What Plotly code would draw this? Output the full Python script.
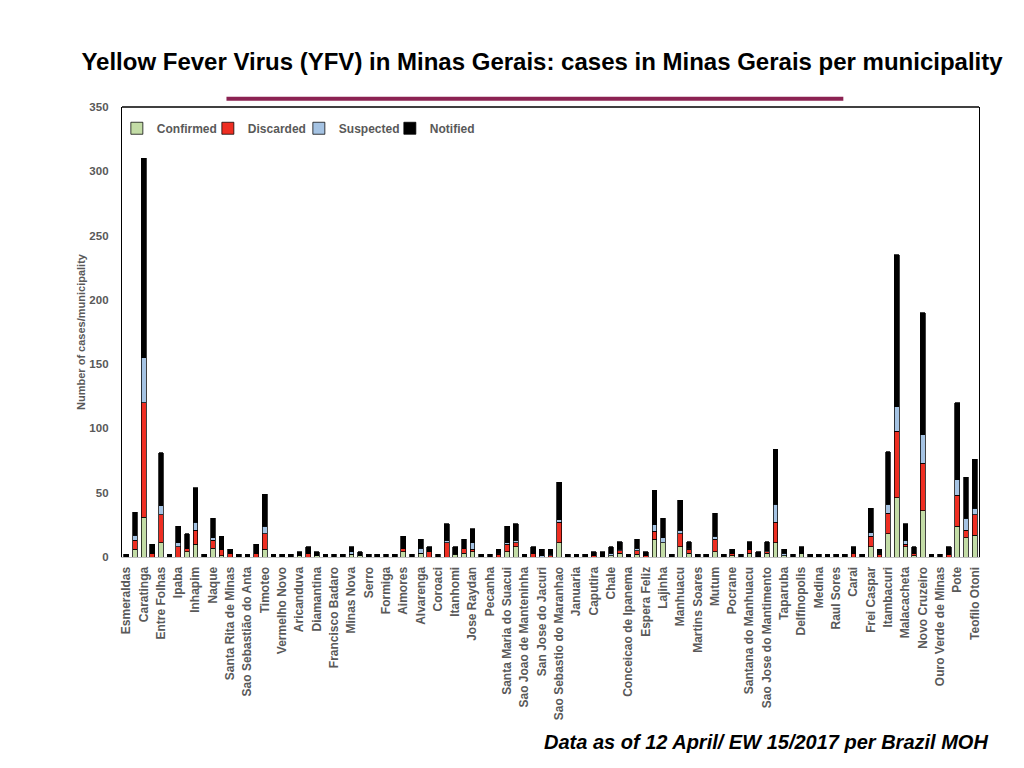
import plotly.graph_objects as go

# Municipalities shown on the axis (every other bar is labelled in the source chart)
labels = [
    "Esmeraldas", "Caratinga", "Entre Folhas", "Ipaba", "Inhapim", "Naque",
    "Santa Rita de Minas", "Sao Sebastião do Anta", "Timoteo", "Vermelho Novo",
    "Aricanduva", "Diamantina", "Francisco Badaro", "Minas Nova", "Serro",
    "Formiga", "Aimores", "Alvarenga", "Coroaci", "Itanhomi", "Jose Raydan",
    "Pecanha", "Santa Maria do Suacui", "Sao Joao de Manteninha",
    "San Jose do Jacuri", "Sao Sebastio do Maranhao", "Januaria", "Caputira",
    "Chale", "Conceicao de Ipanema", "Espera Feliz", "Lajinha", "Manhuacu",
    "Martins Soares", "Mutum", "Pocrane", "Santana do Manhuacu",
    "Sao Jose do Mantimento", "Taparuba", "Delfinopolis", "Medina",
    "Raul Sores", "Carai", "Frei Caspar", "Itambacuri", "Malacacheta",
    "Novo Cruzeiro", "Ouro Verde de Minas", "Pote", "Teofilo Otoni",
]

# 99 municipalities (bar positions 0..98); labelled ones sit at even positions
confirmed = [
    0, 6, 31, 0, 11, 0, 0, 4, 10, 0,
    7, 1, 0, 0, 0, 0, 6, 0, 0, 0,
    1, 0, 1, 0, 0, 0, 2, 1, 0, 0,
    0, 0, 4, 0, 3, 0, 0, 0, 2, 3,
    4, 0, 0, 0, 4, 8, 0, 0, 0, 0,
    11, 0, 0, 0, 0, 0, 1, 3, 0, 2,
    0, 14, 11, 0, 8, 3, 0, 0, 4, 0,
    1, 0, 3, 0, 3, 11, 1, 0, 3, 0,
    0, 0, 0, 0, 0, 0, 8, 0, 18, 46,
    8, 1, 36, 0, 0, 0, 24, 15, 17,
]
discarded = [
    0, 7, 89, 3, 22, 0, 8, 3, 11, 0,
    6, 5, 3, 0, 0, 3, 12, 0, 0, 0,
    0, 3, 0, 0, 0, 0, 0, 0, 0, 0,
    0, 0, 3, 0, 0, 4, 0, 11, 1, 4,
    2, 0, 0, 2, 6, 3, 0, 3, 0, 1,
    16, 0, 0, 0, 1, 0, 0, 2, 0, 3,
    1, 6, 0, 0, 10, 3, 0, 0, 10, 0,
    2, 0, 3, 0, 1, 16, 0, 0, 0, 0,
    0, 0, 0, 0, 3, 0, 8, 2, 16, 52,
    2, 2, 37, 0, 0, 2, 24, 6, 16,
]
suspected = [
    0, 4, 35, 0, 7, 0, 3, 0, 6, 0,
    2, 0, 0, 0, 0, 0, 6, 0, 0, 0,
    0, 0, 0, 0, 0, 0, 2, 0, 0, 0,
    0, 0, 0, 0, 4, 0, 0, 2, 0, 0,
    5, 0, 0, 1, 1, 2, 0, 0, 1, 1,
    2, 0, 0, 0, 0, 0, 2, 1, 0, 2,
    0, 5, 4, 0, 3, 1, 0, 0, 2, 0,
    0, 0, 0, 0, 1, 14, 2, 0, 0, 0,
    0, 0, 0, 0, 0, 0, 3, 1, 7, 19,
    3, 0, 22, 0, 0, 0, 12, 9, 5,
]
notified = [
    2, 18, 155, 7, 41, 2, 13, 11, 27, 2,
    15, 10, 3, 2, 2, 7, 25, 2, 2, 2,
    3, 5, 3, 2, 2, 2, 4, 3, 2, 2,
    2, 2, 9, 2, 7, 4, 2, 13, 5, 7,
    11, 2, 2, 3, 13, 13, 2, 5, 5, 4,
    29, 2, 2, 2, 3, 4, 5, 6, 2, 7,
    3, 27, 15, 2, 23, 5, 2, 2, 18, 2,
    3, 2, 6, 4, 7, 43, 3, 2, 5, 2,
    2, 2, 2, 2, 5, 2, 19, 3, 41, 118,
    13, 5, 95, 2, 2, 6, 60, 32, 38,
]

series = [
    ("Confirmed", confirmed, "#c3dca6"),
    ("Discarded", discarded, "#ee2e22"),
    ("Suspected", suspected, "#a5c3e3"),
    ("Notified", notified, "#000000"),
]

positions = list(range(len(confirmed)))
tick_positions = positions[::2]

fig = go.Figure()
for name, vals, color in series:
    fig.add_trace(go.Bar(
        x=positions, y=vals, name=name,
        marker=dict(color=color, line=dict(color="#000000", width=0.75)),
    ))

gray = "#595959"
fig.update_layout(
    width=1024, height=768,
    barmode="stack", bargap=0.45,
    plot_bgcolor="white", paper_bgcolor="white",
    margin=dict(l=121.5, r=45.3, t=107.3, b=211, autoexpand=False),
    font=dict(family="Liberation Sans, Arial, sans-serif", color=gray),
    showlegend=True,
    legend=dict(
        orientation="h", x=-0.006, y=0.985, xanchor="left", yanchor="top",
        traceorder="normal", entrywidth=46, itemwidth=30,
        font=dict(size=12, color=gray, family="Liberation Sans, Arial, sans-serif", weight="bold"),
        bgcolor="rgba(0,0,0,0)",
    ),
    title=dict(
        text="<b>Yellow Fever Virus (YFV) in Minas Gerais: cases in Minas Gerais per municipality</b>",
        x=542 / 1024, xref="container", xanchor="center",
        y=1 - 62 / 768, yref="container", yanchor="middle",
        font=dict(size=24, color="#000000", family="Liberation Sans, Arial, sans-serif"),
    ),
    xaxis=dict(
        range=[-0.5, len(positions) - 0.5],
        tickmode="array", tickvals=tick_positions, ticktext=labels,
        tickangle=-90, showgrid=False, zeroline=False,
        showline=True, linecolor="#c0c0c0", linewidth=1,
        ticks="", ticklabelstandoff=4,
        tickfont=dict(size=12, color=gray, weight="bold"),
    ),
    yaxis=dict(
        range=[0, 350], tickvals=[0, 50, 100, 150, 200, 250, 300, 350],
        showgrid=False, zeroline=False,
        showline=True, mirror=True, linecolor="#000000", linewidth=1.3,
        ticks="", ticklabelstandoff=10,
        tickfont=dict(size=11.5, color=gray, weight="bold"),
        title=dict(text="Number of cases/municipality", standoff=1,
                   font=dict(size=11, color=gray, weight="bold")),
    ),
    shapes=[
        dict(type="line", xref="paper", yref="paper", x0=0, x1=1, y0=1, y1=1,
             line=dict(color="#000000", width=1.3)),
        dict(type="line", xref="paper", yref="paper",
             x0=(226 - 121.5) / 857.2, x1=(843 - 121.5) / 857.2,
             y0=(557 - 99) / 449.7, y1=(557 - 99) / 449.7,
             line=dict(color="#8b2252", width=4)),
    ],
    annotations=[
        dict(text="<b><i>Data as of 12 April/ EW 15/2017 per Brazil MOH</i></b>",
             xref="paper", yref="paper",
             x=(990 - 121.5) / 857.2, y=(557 - 742) / 449.7,
             xanchor="right", yanchor="middle", showarrow=False,
             font=dict(size=20, color="#000000", family="Liberation Sans, Arial, sans-serif")),
    ],
)

fig.write_html("out.html", config={"displayModeBar": False},
               post_script="document.body.style.margin='0';")
